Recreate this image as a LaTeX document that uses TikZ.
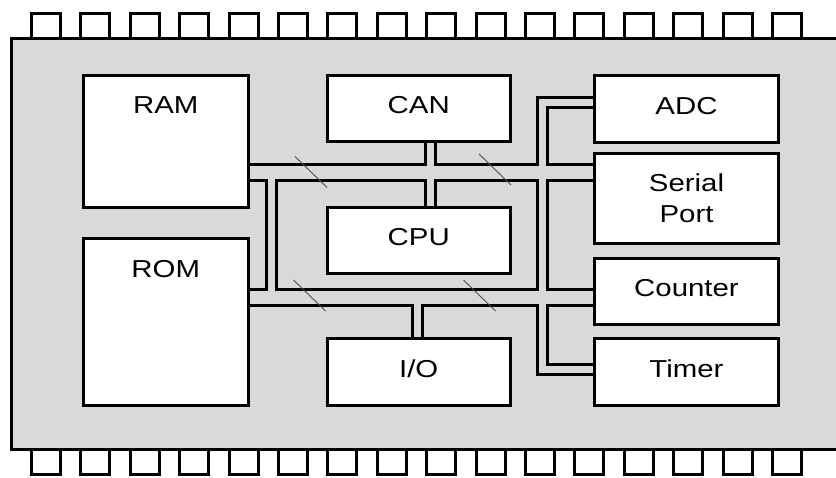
\documentclass[tikz,border=0pt]{standalone}
\usepackage{fontspec}
\setmainfont{Liberation Sans}[FakeStretch=1.2]
\usetikzlibrary{calc}
\definecolor{ChipGrey}{HTML}{D9D9D9}
\definecolor{MarkGrey}{HTML}{4D4D4D}
\tikzset{
chipbody/.style={draw=black, line width=3pt, fill=ChipGrey},
chippin/.style={draw=black, line width=3pt, fill=white},
unitbox/.style={draw=black, line width=3pt, fill=white, inner sep=0pt, align=center, text depth=6pt, font=\fontsize{24.5}{31}\selectfont},
unittext/.style={inner sep=0pt, font=\fontsize{24.5}{31}\selectfont},
busmark/.style={draw=MarkGrey, line width=0.9pt}
}
\begin{document}
\begin{tikzpicture}[x=1pt, y=-1pt]
  \useasboundingbox (0,0) rectangle (836,477);
  \clip (0,0) rectangle (836,477);
  % pins and package
  \foreach \k in {0,...,15} {
    \draw[chippin] ({31.5+49.4*\k},13.5) rectangle ++(29,24.5);
    \draw[chippin] ({31.5+49.4*\k},449) rectangle ++(29,25);
  }
  \draw[chipbody] (11,38) rectangle (870,449);
  % function blocks
  \node[unitbox, minimum width=164.5pt, minimum height=132pt] (RAM) at (165.75,141) {};
  \node[unitbox, minimum width=164.5pt, minimum height=167pt] (ROM) at (165.75,321.5) {};
  \node[unittext] (RAMtxt) at ($(RAM.north)+(0,32)$) {RAM};
  \node[unittext] (ROMtxt) at ($(ROM.north)+(0,33)$) {ROM};
  \node[unitbox, minimum width=182.5pt, minimum height=65.5pt] (CAN) at (418.75,108.25) {CAN};
  \node[unitbox, minimum width=182.5pt, minimum height=66.5pt] (CPU) at (418.75,240.25) {CPU};
  \node[unitbox, minimum width=182.5pt, minimum height=67pt] (IO) at (418.75,371.5) {I/O};
  \node[unitbox, minimum width=184pt, minimum height=67pt] (ADC) at (686.5,108.5) {ADC};
  \node[unitbox, minimum width=184pt, minimum height=90pt, text depth=0pt] (Serial) at (686.5,198) {Serial\\Port};
  \node[unitbox, minimum width=184pt, minimum height=66pt] (Counter) at (686.5,291) {Counter};
  \node[unitbox, minimum width=184pt, minimum height=66.5pt] (Timer) at (686.5,371.75) {Timer};
  % bus taps
  \coordinate (busU) at (271,172);
  \coordinate (busL) at (271,297.5);
  \coordinate (canTap) at (430,172);
  \coordinate (ioTap) at (417.5,297.5);
  \coordinate (adcTap) at (542,102.5);
  \coordinate (tmrTap) at (542,369.5);
  % buses: outline pass, then fill pass
  \foreach \col/\wide/\thin in {black/19/13, ChipGrey/13/7} {
    \draw[draw=\col, line width=\wide pt] (RAM.east |- busU) -- (Serial.west |- busU);
    \draw[draw=\col, line width=\wide pt] (ROM.east |- busL) -- (Counter.west |- busL);
    \draw[draw=\col, line width=\thin pt] (busU) -- (busL);
    \draw[draw=\col, line width=\thin pt] (CAN.south -| canTap) -- (CPU.north -| canTap);
    \draw[draw=\col, line width=\thin pt] (ioTap) -- (IO.north -| ioTap);
    \draw[draw=\col, line width=\thin pt] (ADC.west |- adcTap) -- (adcTap) -- (tmrTap) -- (Timer.west |- tmrTap);
  }
  % bus width marks
  \draw[busmark] (311,172) +(-16,-15.5) -- +(16,15.5);
  \draw[busmark] (495,169.5) +(-16,-15.5) -- +(16,15.5);
  \draw[busmark] (309.5,295.5) +(-16,-15.5) -- +(16,15.5);
  \draw[busmark] (479.5,295.5) +(-16,-15.5) -- +(16,15.5);
\end{tikzpicture}
\end{document}
